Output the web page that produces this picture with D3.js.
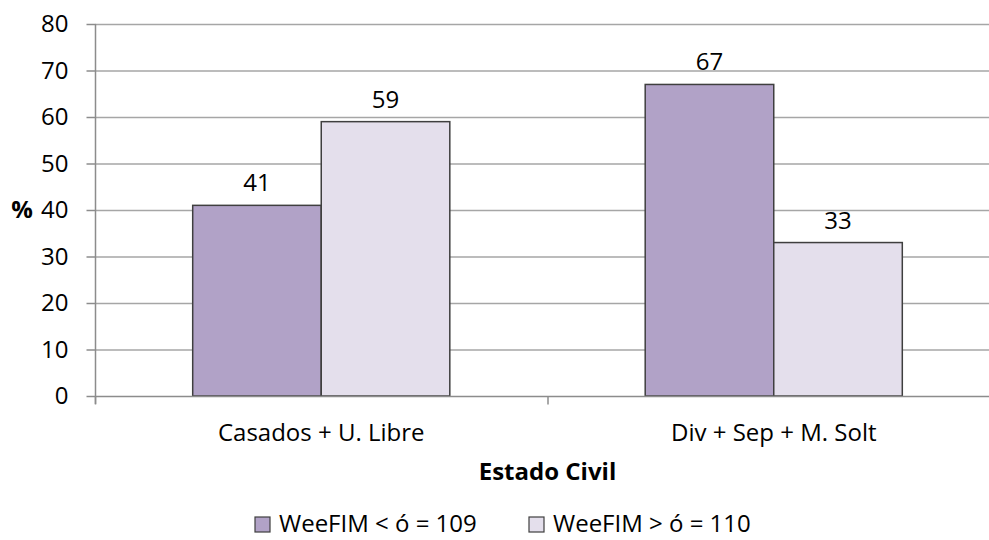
<!DOCTYPE html>
<html><head><meta charset="utf-8">
<script src="https://cdn.jsdelivr.net/npm/d3@7"></script>
<style>body{margin:0;background:#fff}svg{display:block}text{font-family:"Open Sans",Lato,sans-serif;fill:#000}</style>
</head><body><svg id="c" width="989" height="540"></svg>
<script>
const categories = ["Casados + U. Libre", "Div + Sep + M. Solt"];
const seriesNames = ["WeeFIM < ó = 109", "WeeFIM > ó = 110"];
const seriesLow = [41, 67];
const seriesHigh = [59, 33];
const yTicks = [0, 10, 20, 30, 40, 50, 60, 70, 80];
const colors = ["#B1A2C7", "#E4DFEC"];

const svg = d3.select("#c");
const mLeft = 95, mRight = 1000, mTop = 24, mBottom = 396;
const x = d3.scaleBand().domain(categories).range([mLeft, mRight]).paddingInner(0).paddingOuter(0);
const x1 = d3.scaleBand().domain(seriesNames).range([0, x.bandwidth()]).paddingInner(0).paddingOuter(0.76);
const y = d3.scaleLinear().domain([0, 80]).range([mBottom, mTop]);
const fs = 24;
const ff = "Open Sans";

// gridlines
svg.append("g").selectAll("line").data(yTicks.filter(d => d > 0)).join("line")
  .attr("x1", mLeft).attr("x2", 989).attr("y1", d => y(d) + 0.5).attr("y2", d => y(d) + 0.5)
  .attr("stroke", "#a6a6a6").attr("stroke-width", 1.5);

// y axis
const ya = svg.append("g").attr("transform", `translate(${mLeft + 0.5},0)`)
  .call(d3.axisLeft(y).tickValues(yTicks).tickSize(9).tickPadding(18));
ya.select(".domain").attr("stroke", "#8c8c8c").attr("stroke-width", 1.5).attr("d", `M0,${mTop}V${mBottom + 8}`);
ya.selectAll(".tick line").attr("stroke", "#8c8c8c").attr("stroke-width", 1.5);
ya.selectAll(".tick text").attr("font-size", fs).attr("font-family", ff).attr("fill", "#000");

// bars
const data = [];
categories.forEach((c, i) => {
  data.push({ c, s: seriesNames[0], v: seriesLow[i], col: colors[0] });
  data.push({ c, s: seriesNames[1], v: seriesHigh[i], col: colors[1] });
});
svg.append("g").selectAll("rect").data(data).join("rect")
  .attr("x", d => x(d.c) + x1(d.s)).attr("width", x1.bandwidth())
  .attr("y", d => y(d.v)).attr("height", d => y(0) - y(d.v))
  .attr("fill", d => d.col).attr("stroke", "#3f3f3f").attr("stroke-width", 1.5);

// value labels
svg.append("g").selectAll("text").data(data).join("text")
  .attr("x", d => x(d.c) + x1(d.s) + x1.bandwidth() / 2).attr("y", d => y(d.v) - 14)
  .attr("text-anchor", "middle").attr("font-size", fs).text(d => d.v);

// x axis
const xa = svg.append("g").attr("transform", `translate(0,${mBottom + 0.5})`);
xa.append("line").attr("x1", mLeft).attr("x2", 989).attr("stroke", "#8c8c8c").attr("stroke-width", 1.5);
const bounds = [mLeft, ...categories.map(c => x(c) + x.bandwidth())];
xa.selectAll(".tk").data(bounds).join("line").attr("class", "tk")
  .attr("x1", d => d + 0.5).attr("x2", d => d + 0.5).attr("y1", 0).attr("y2", 8)
  .attr("stroke", "#8c8c8c").attr("stroke-width", 1.5);
xa.selectAll("text").data(categories).join("text")
  .attr("x", d => x(d) + x.bandwidth() / 2).attr("y", 44)
  .attr("text-anchor", "middle").attr("font-size", fs).text(d => d);

// axis titles
svg.append("text").attr("x", (mLeft + mRight) / 2).attr("y", 480).attr("text-anchor", "middle")
  .attr("font-size", fs).attr("font-weight", "bold").text("Estado Civil");
svg.append("text").attr("x", 22).attr("y", y(40) + 8).attr("text-anchor", "middle")
  .attr("font-size", fs).attr("font-weight", "bold").text("%");

// legend
const legX = [255, 529];
const lg = svg.append("g").selectAll("g").data(seriesNames).join("g")
  .attr("transform", (d, i) => `translate(${legX[i]},517)`);
lg.append("rect").attr("width", 15).attr("height", 15).attr("fill", (d, i) => colors[i])
  .attr("stroke", "#3f3f3f").attr("stroke-width", 1.2);
lg.append("text").attr("x", 24).attr("y", 15).attr("font-size", fs).text(d => d);
</script></body></html>
